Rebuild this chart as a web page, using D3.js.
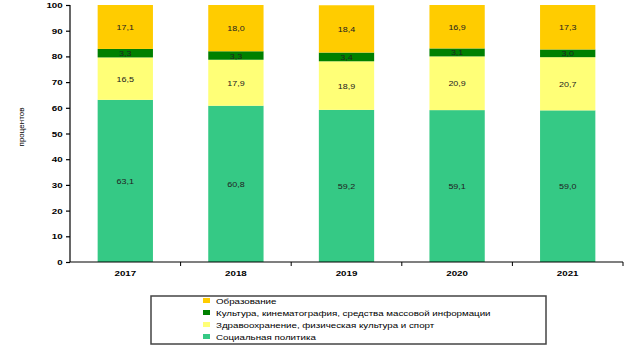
<!DOCTYPE html>
<html>
<head>
  <meta charset='utf-8'>
  <style>
    body { margin: 0; background: #fff; }
    text { font-family: Arial, "Liberation Sans", sans-serif; }
  </style>
  <script src='https://cdn.jsdelivr.net/npm/d3@7'></script>
</head>
<body>
  <script>
    // data
    const years = ['2017', '2018', '2019', '2020', '2021']
    const social = [63.1, 60.8, 59.2, 59.1, 59.0]
    const health = [16.5, 17.9, 18.9, 20.9, 20.7]
    const culture = [3.3, 3.3, 3.4, 3.1, 3.0]
    const education = [17.1, 18.0, 18.4, 16.9, 17.3]
    const seriesNames = ['Социальная политика', 'Здравоохранение, физическая культура и спорт',
      'Культура, кинематография, средства массовой информации', 'Образование']
    const yTicks = [0, 10, 20, 30, 40, 50, 60, 70, 80, 90, 100]

    const width = 627, height = 350
    const keys = ['social', 'health', 'culture', 'education']
    const colors = ['#35c985', '#ffff77', '#008000', '#ffcc00']
    const sx = 1.22 // text in the picture is stretched sideways

    const rows = years.map((y, i) => ({
      year: y, social: social[i], health: health[i], culture: culture[i], education: education[i]
    }))
    const stacked = d3.stack().keys(keys)(rows)

    const svg = d3.select('body').append('svg')
      .attr('width', width).attr('height', height)

    const x = d3.scaleBand(years, [70, 623]).paddingInner(0.5).paddingOuter(0.25)
    const y = d3.scaleLinear([0, 100], [262, 5])

    // bars
    svg.append('g').selectAll('g')
      .data(stacked)
      .join('g')
      .attr('fill', (d, i) => colors[i])
      .selectAll('rect')
      .data(d => d)
      .join('rect')
      .attr('x', d => x(d.data.year))
      .attr('width', x.bandwidth())
      .attr('y', d => y(d[1]))
      .attr('height', d => y(d[0]) - y(d[1]))

    // value labels
    const fmt = v => v.toFixed(1).replace('.', ',')
    svg.append('g').selectAll('g')
      .data(stacked)
      .join('g')
      .selectAll('text')
      .data(d => d.map(p => ({ p, v: p.data[d.key] })))
      .join('text')
      .attr('transform', d => `translate(${x(d.p.data.year) + x.bandwidth() / 2},${(y(d.p[0]) + y(d.p[1])) / 2 + 3}) scale(1.12,1)`)
      .attr('text-anchor', 'middle')
      .attr('font-size', 8)
      .attr('fill', '#222')
      .text(d => fmt(d.v))

    // y axis
    svg.append('g')
      .attr('transform', 'translate(70,0)')
      .call(d3.axisLeft(y).tickValues(yTicks).tickSize(4).tickPadding(2))
      .call(g => g.select('.domain').attr('d', 'M0,5V262').attr('stroke', '#000').attr('stroke-width', 1.2))
      .call(g => g.selectAll('.tick line').attr('stroke-width', 1.2))
      .call(g => g.selectAll('text').attr('font-size', 8).attr('font-weight', 'bold').attr('fill', '#000')
        .attr('transform', `scale(${sx},1)`))

    // x axis
    const edges = d3.range(years.length + 1).map(i => 70 + i * (623 - 70) / years.length)
    const xg = svg.append('g')
    xg.append('line').attr('x1', 70).attr('x2', 623).attr('y1', 262).attr('y2', 262)
      .attr('stroke', '#000').attr('stroke-width', 1.2)
    xg.selectAll('line.tk').data(edges.slice(1)).join('line').attr('class', 'tk')
      .attr('x1', d => d).attr('x2', d => d).attr('y1', 262).attr('y2', 266)
      .attr('stroke', '#000')
    xg.selectAll('text').data(years).join('text')
      .attr('transform', d => `translate(${x(d) + x.bandwidth() / 2},276) scale(${sx},1)`)
      .attr('text-anchor', 'middle')
      .attr('font-size', 8).attr('font-weight', 'bold')
      .text(d => d)

    // y title
    svg.append('text')
      .attr('transform', 'translate(24,127) rotate(-90)')
      .attr('text-anchor', 'middle')
      .attr('font-size', 8)
      .text('процентов')

    // legend
    const lg = svg.append('g')
    lg.append('rect').attr('x', 151).attr('y', 296).attr('width', 395).attr('height', 48)
      .attr('fill', '#fff').attr('stroke', '#444').attr('stroke-width', 1.5)
    const order = [3, 2, 1, 0]
    const items = lg.selectAll('g').data(order).join('g')
      .attr('transform', (d, i) => `translate(203,${301 + i * 12})`)
    items.append('rect').attr('x', 0).attr('y', -3).attr('width', 7).attr('height', 5)
      .attr('fill', d => colors[d])
    items.append('text').attr('transform', `translate(13,2.5) scale(${sx},1)`).attr('font-size', 8)
      .text(d => seriesNames[d])
  </script>
</body>
</html>
